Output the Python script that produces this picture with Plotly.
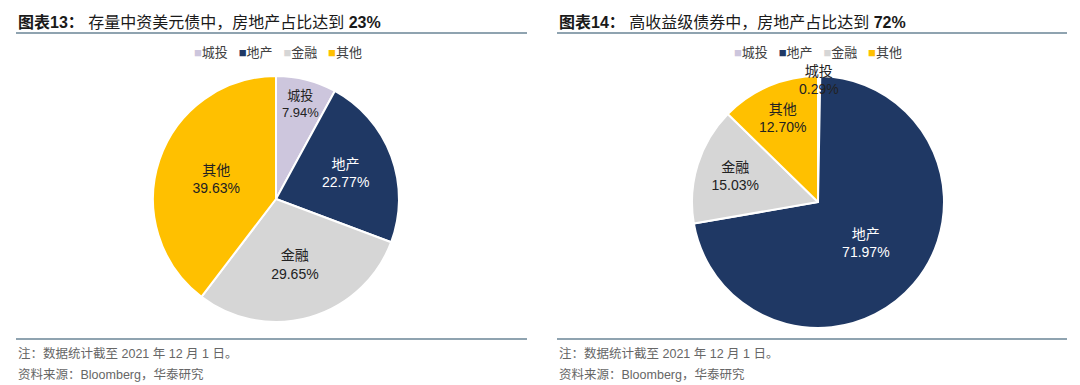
import math
import plotly.graph_objects as go

categories = ["城投", "地产", "金融", "其他"]
values_stock = [7.94, 22.77, 29.65, 39.63]
values_hy = [0.29, 71.97, 15.03, 12.70]
colors = ["#CDC6DD", "#1F3864", "#D6D6D6", "#FFC000"]
text_colors = ["#222222", "#FFFFFF", "#222222", "#222222"]

title_left = "<b>图表13：</b> 存量中资美元债中，房地产占比达到 <b>23%</b>"
title_right = "<b>图表14：</b> 高收益级债券中，房地产占比达到 <b>72%</b>"
note1 = "注：数据统计截至 2021 年 12 月 1 日。"
note2 = "资料来源：Bloomberg，华泰研究"

W, H = 1080, 385
FONT = "Liberation Sans, Arial, Noto Sans CJK SC, sans-serif"

def px(x):
    return x / W

def py(y):
    return 1 - y / H

# pie boxes (pixels): left, right, top, bottom
box1 = (153, 399, 76, 322)
box2 = (692, 944, 76, 328)

fig = go.Figure()

fig.add_trace(go.Pie(
    labels=categories, values=values_stock,
    sort=False, direction="clockwise", rotation=0,
    marker=dict(colors=colors, line=dict(color="white", width=2)),
    texttemplate="%{label}<br>%{value:.2f}%",
    textposition="inside", insidetextorientation="horizontal",
    textfont=dict(color=text_colors, size=14, family=FONT),
    domain=dict(x=[px(box1[0]), px(box1[1])], y=[py(box1[3]), py(box1[2])]),
    showlegend=False, hoverinfo="skip",
))

# tiny first slice of pie 2 gets its label on the rim (annotation below)
pos2 = ["none", "inside", "inside", "inside"]
fig.add_trace(go.Pie(
    labels=categories, values=values_hy,
    sort=False, direction="clockwise", rotation=0,
    marker=dict(colors=colors, line=dict(color="white", width=2)),
    texttemplate="%{label}<br>%{value:.2f}%",
    textposition=pos2,
    insidetextorientation="horizontal",
    textfont=dict(color=text_colors, size=14, family=FONT),
    domain=dict(x=[px(box2[0]), px(box2[1])], y=[py(box2[3]), py(box2[2])]),
    showlegend=False, hoverinfo="skip",
))

fig.update_layout(
    width=W, height=H,
    margin=dict(l=0, r=0, t=0, b=0),
    paper_bgcolor="white", plot_bgcolor="white",
    font=dict(family=FONT),
)

legend_text = "\u00a0\u00a0\u00a0".join(
    f"<span style='color:{c}'>■</span>{lab}" for lab, c in zip(categories, colors)
)

ann = []
for x0, xc, t in [(16, 278, title_left), (557, 818, title_right)]:
    ann.append(dict(x=px(x0), y=py(22), xref="paper", yref="paper",
                    xanchor="left", yanchor="middle", showarrow=False,
                    text=t, font=dict(size=16, color="#1a1a1a", family=FONT)))
    ann.append(dict(x=px(xc), y=py(53), xref="paper", yref="paper",
                    xanchor="center", yanchor="middle", showarrow=False,
                    text=legend_text, font=dict(size=13, color="#404040", family=FONT)))
    ann.append(dict(x=px(x0), y=py(353), xref="paper", yref="paper",
                    xanchor="left", yanchor="middle", showarrow=False,
                    text=note1, font=dict(size=12.5, color="#666666", family=FONT)))
    ann.append(dict(x=px(x0), y=py(374), xref="paper", yref="paper",
                    xanchor="left", yanchor="middle", showarrow=False,
                    text=note2, font=dict(size=12.5, color="#666666", family=FONT)))

# rim label for the tiny slice, placed from the slice's mid angle
cx2 = (box2[0] + box2[1]) / 2
cy2 = (box2[2] + box2[3]) / 2
r2 = min(box2[1] - box2[0], box2[3] - box2[2]) / 2
theta = 2 * math.pi * (values_hy[0] / 2) / sum(values_hy)
ann.append(dict(x=px(cx2 + r2 * math.sin(theta)), y=py(cy2 - r2 * math.cos(theta) + 4),
                xref="paper", yref="paper", xanchor="center", yanchor="middle",
                showarrow=False, text=f"{categories[0]}<br>{values_hy[0]:.2f}%",
                font=dict(size=14, color="#222222", family=FONT)))
fig.update_layout(annotations=ann)

shapes = []
for x0, x1 in [(16, 527), (557, 1067)]:
    for yy in (33, 339):
        shapes.append(dict(type="line", xref="paper", yref="paper",
                           x0=px(x0), x1=px(x1), y0=py(yy), y1=py(yy),
                           line=dict(color="#8FA3B0", width=2)))
fig.update_layout(shapes=shapes)

fig.write_html("out.html", config={"displayModeBar": False},
               post_script="document.body.style.margin='0';document.body.style.overflow='hidden';")
